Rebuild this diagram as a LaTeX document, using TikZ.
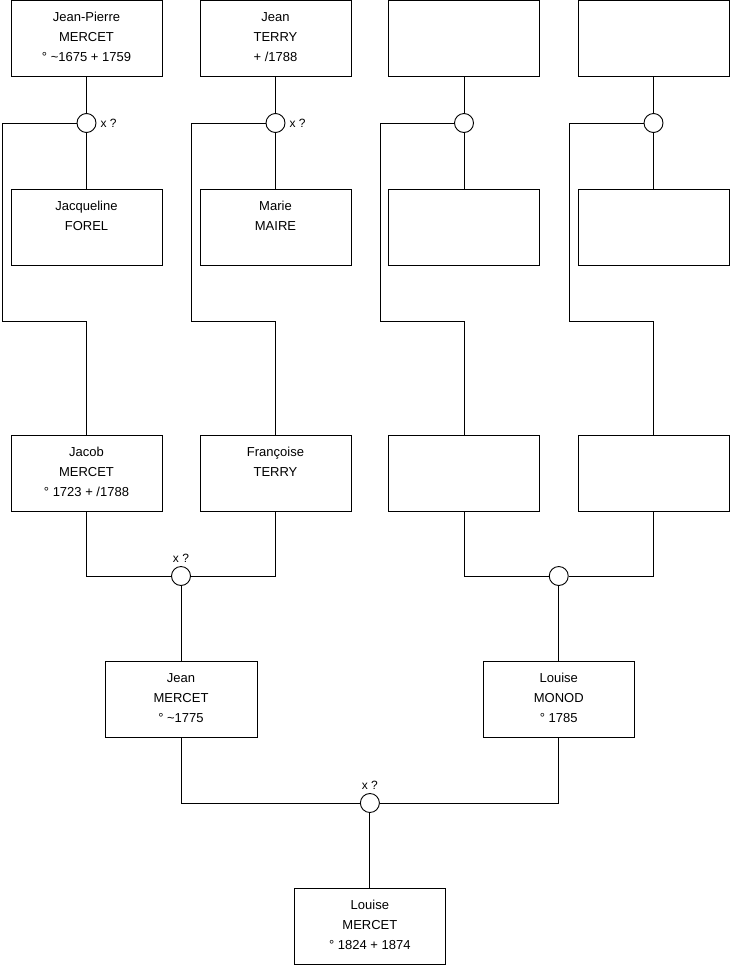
\documentclass[tikz,border=0pt]{standalone}
\usepackage{fontspec}
\setmainfont{Liberation Sans}
\begin{document}
\begin{tikzpicture}[x=1pt,y=-1pt,
  box/.style={draw=black,line width=0.9pt,rectangle,minimum width=151pt,minimum height=76pt,inner sep=0pt,fill=white},
  txt/.style={anchor=north,align=center,inner sep=0pt,font=\fontsize{13}{20}\selectfont},
  ring/.style={draw=black,line width=0.9pt,circle,minimum size=19pt,inner sep=0pt,fill=white},
  xlab/.style={font=\fontsize{12}{14}\selectfont,inner sep=0pt},
  link/.style={draw=black,line width=0.9pt}]
\useasboundingbox (0,0) rectangle (740,975);
% row 1
\node[box] (a1) at (86.5,38) {};
\node[box] (a2) at (275.5,38) {};
\node[box] (a3) at (464,38) {};
\node[box] (a4) at (653.5,38) {};
\node[txt] (a1t) at ([yshift=-7.5pt]a1.north) {\strut Jean-Pierre\\MERCET\\° \textasciitilde1675 + 1759};
\node[txt] (a2t) at ([yshift=-7.5pt]a2.north) {\strut Jean\\TERRY\\+ /1788};
% row 2
\node[box] (b1) at (86.5,227) {};
\node[box] (b2) at (275.5,227) {};
\node[box] (b3) at (464,227) {};
\node[box] (b4) at (653.5,227) {};
\node[txt] (b1t) at ([yshift=-7.5pt]b1.north) {\strut Jacqueline\\FOREL};
\node[txt] (b2t) at ([yshift=-7.5pt]b2.north) {\strut Marie\\MAIRE};
% row 3
\node[box] (c1) at (86.5,473) {};
\node[box] (c2) at (275.5,473) {};
\node[box] (c3) at (464,473) {};
\node[box] (c4) at (653.5,473) {};
\node[txt] (c1t) at ([yshift=-7.5pt]c1.north) {\strut Jacob\\MERCET\\° 1723 + /1788};
\node[txt] (c2t) at ([yshift=-7.5pt]c2.north) {\strut Françoise\\TERRY};
% row 4
\node[box,minimum width=152pt] (d1) at (181,699.5) {};
\node[box] (d2) at (558.75,699.5) {};
\node[txt] (d1t) at ([yshift=-7.5pt]d1.north) {\strut Jean\\MERCET\\° \textasciitilde1775};
\node[txt] (d2t) at ([yshift=-7.5pt]d2.north) {\strut Louise\\MONOD\\° 1785};
% row 5
\node[box] (e) at (369.9,926) {};
\node[txt] (et) at ([yshift=-7.5pt]e.north) {\strut Louise\\MERCET\\° 1824 + 1874};
% unions
\node[ring] (m1) at (86.5,123) {};
\node[ring] (m2) at (275.5,123) {};
\node[ring] (m3) at (464,123) {};
\node[ring] (m4) at (653.5,123) {};
\node[ring] (n1) at (181,576) {};
\node[ring] (n2) at (558.75,576) {};
\node[ring] (o) at (369.9,803) {};
\node[xlab,anchor=west] (m1l) at ([xshift=4pt]m1.east) {x ?};
\node[xlab,anchor=west] (m2l) at ([xshift=4pt]m2.east) {x ?};
\node[xlab,anchor=base] (n1l) at ([yshift=3.5pt]n1.north) {x ?};
\node[xlab,anchor=base] (ol) at ([yshift=3.5pt]o.north) {x ?};
% elbow points
\coordinate (k1) at (2,321);
\coordinate (k2) at (191,321);
\coordinate (k3) at (380,321);
\coordinate (k4) at (569,321);
% connectors
\foreach \i in {1,2,3,4}{
  \draw[link] (a\i.south) -- (m\i.north);
  \draw[link] (m\i.south) -- (b\i.north);
  \draw[link] (m\i.west) -| (k\i) -| (c\i.north);
}
\draw[link] (c1.south) |- (n1.west);
\draw[link] (c2.south) |- (n1.east);
\draw[link] (n1.south) -- (d1.north);
\draw[link] (c3.south) |- (n2.west);
\draw[link] (c4.south) |- (n2.east);
\draw[link] (n2.south) -- (d2.north);
\draw[link] (d1.south) |- (o.west);
\draw[link] (d2.south) |- (o.east);
\draw[link] (o.south) -- (e.north);
\end{tikzpicture}
\end{document}
